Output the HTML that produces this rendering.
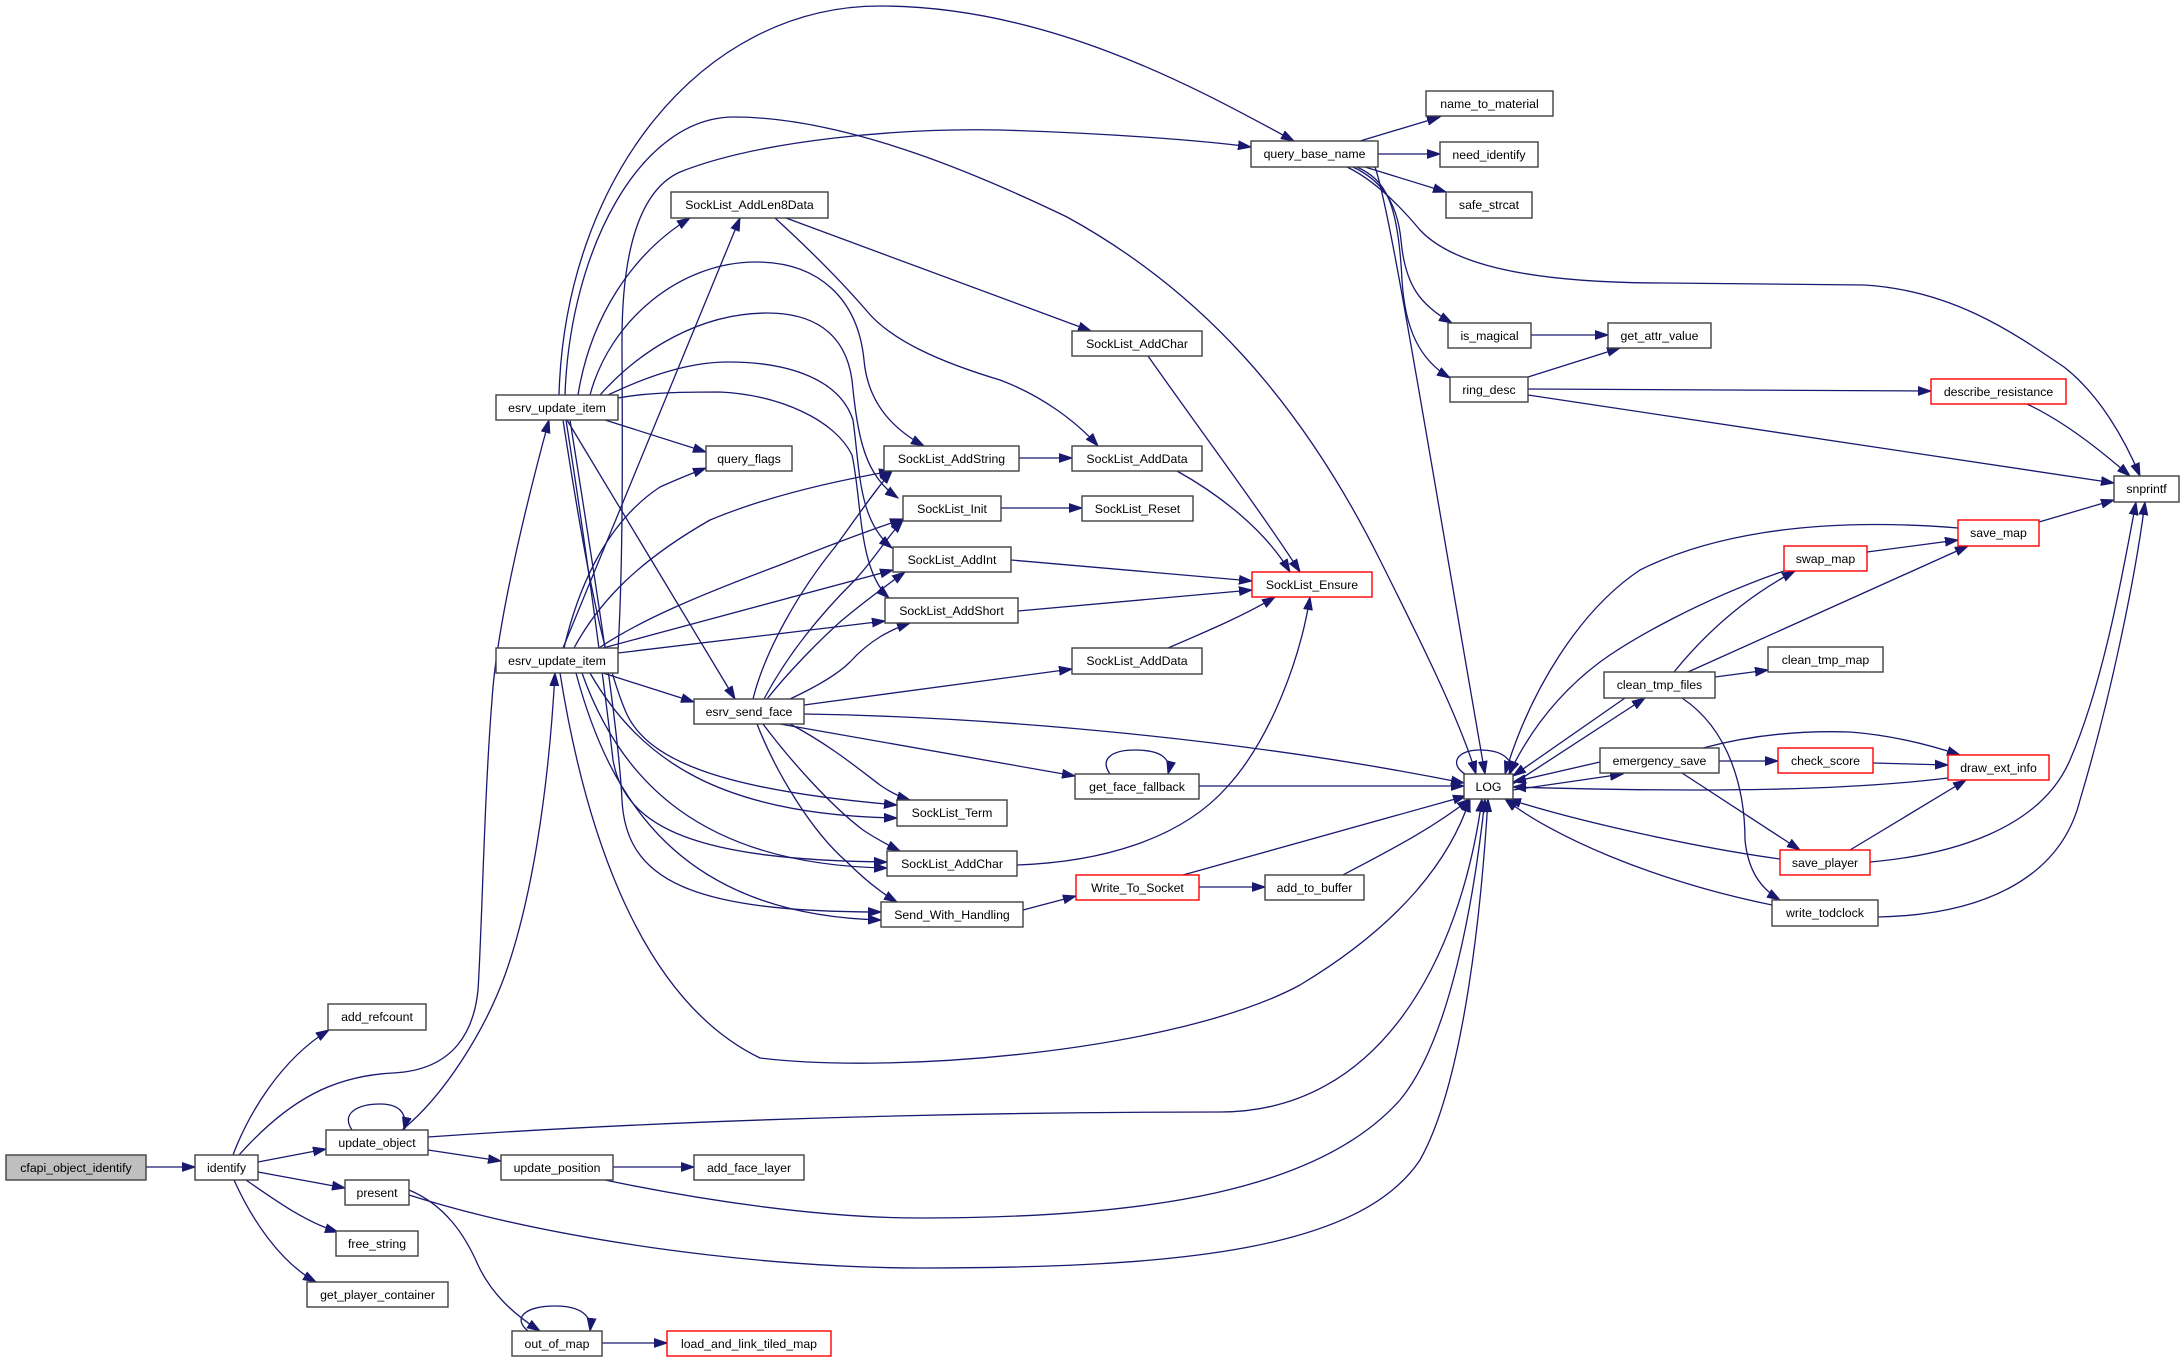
<!DOCTYPE html>
<html><head><meta charset="utf-8"><style>
html,body{margin:0;padding:0;background:#fff;width:2184px;height:1363px;overflow:hidden}
svg{display:block}
text{font-family:"Liberation Sans",Arial,sans-serif;font-size:12.3px;fill:#000;text-anchor:middle}
.e{fill:none;stroke:#191970;stroke-width:1.3;marker-end:url(#a)}
.n{fill:#fff;stroke:#404040;stroke-width:1.4}
.r{fill:#fff;stroke:#ff0000;stroke-width:1.4}
.g{fill:#bfbfbf;stroke:#404040;stroke-width:1.4}
</style></head><body>
<svg width="2184" height="1363" viewBox="0 0 2184 1363" xmlns="http://www.w3.org/2000/svg">
<defs><marker id="a" markerUnits="userSpaceOnUse" markerWidth="14" markerHeight="10" refX="13" refY="5" orient="auto"><path d="M0,0.6 L13,5 L0,9.4 z" fill="#191970" stroke="#191970" stroke-width="1"/></marker></defs>
<rect width="2184" height="1363" fill="#fff"/>
<g>
<path class="e" d="M146,1167 L195,1167"/>
<path class="e" d="M233,1155 C248,1115 280,1060 329,1030"/>
<path class="e" d="M239,1155 C290,1098 335,1076 393,1073 C455,1070 474,1030 478,990 C482,930 484,800 492,700 C497,620 530,490 549,420"/>
<path class="e" d="M258,1162 L326,1149"/>
<path class="e" d="M258,1172 L345,1188"/>
<path class="e" d="M246,1180 C275,1200 305,1222 338,1232"/>
<path class="e" d="M234,1180 C252,1220 280,1262 316,1282"/>
<path class="e" d="M352,1130 C340,1112 360,1104 380,1104 C398,1104 408,1112 404,1130"/>
<path class="e" d="M402,1130 C445,1095 485,1030 505,975 C530,905 548,800 555,673"/>
<path class="e" d="M428,1137 C700,1118 1000,1112 1220,1112 C1380,1112 1460,960 1482,799"/>
<path class="e" d="M428,1150 L501,1161"/>
<path class="e" d="M613,1167 L694,1167"/>
<path class="e" d="M605,1180 C700,1200 820,1218 920,1218 C1150,1218 1320,1190 1400,1100 C1450,1040 1474,900 1485,799"/>
<path class="e" d="M409,1195 C550,1240 760,1268 920,1268 C1180,1268 1360,1250 1420,1160 C1465,1080 1482,900 1488,799"/>
<path class="e" d="M409,1190 C445,1205 465,1235 478,1265 C492,1295 515,1315 540,1331"/>
<path class="e" d="M528,1331 C512,1318 525,1306 555,1306 C580,1306 592,1315 590,1331"/>
<path class="e" d="M602,1343 L667,1343"/>

<path class="e" d="M559,395 C565,180 700,6 880,6 C1050,6 1200,90 1294,141"/>
<path class="e" d="M565,395 C570,250 640,117 734,117 C850,117 990,180 1067,217 C1200,290 1300,400 1380,560 C1420,640 1460,720 1476,774"/>
<path class="e" d="M578,395 C590,320 630,255 690,218"/>
<path class="e" d="M590,395 C610,320 680,262 756,262 C820,262 858,300 864,360 C868,405 895,430 924,446"/>
<path class="e" d="M600,395 C640,350 700,313 767,313 C810,313 845,330 852,380 C858,440 865,475 898,498"/>
<path class="e" d="M608,395 C650,375 690,362 728,362 C790,362 840,380 853,420 C860,470 858,520 892,548"/>
<path class="e" d="M618,398 C650,392 690,392 720,392 C780,395 835,420 852,455 C862,500 858,570 889,598"/>
<path class="e" d="M605,420 L706,452"/>
<path class="e" d="M567,420 L735,699"/>
<path class="e" d="M563,420 C580,530 600,650 625,710 C645,760 720,790 897,805"/>
<path class="e" d="M566,420 C585,540 605,690 613,760 C625,830 700,860 887,862"/>
<path class="e" d="M570,420 C592,560 618,720 622,800 C626,880 690,912 881,912"/>

<path class="e" d="M618,650 C624,550 622,400 622,340 C622,250 640,190 680,172 C760,140 900,128 1000,130 C1100,133 1200,140 1251,147"/>
<path class="e" d="M564,648 C580,580 610,520 660,487 C680,478 690,474 706,468"/>
<path class="e" d="M563,648 L740,218"/>
<path class="e" d="M574,648 C600,600 640,560 710,520 C770,495 840,480 892,471"/>
<path class="e" d="M599,648 C640,620 700,595 780,565 C830,545 870,530 903,519"/>
<path class="e" d="M603,648 L893,570"/>
<path class="e" d="M618,653 L885,621"/>
<path class="e" d="M603,673 L694,702"/>
<path class="e" d="M590,673 C640,760 720,815 897,818"/>
<path class="e" d="M582,673 C620,780 700,865 887,868"/>
<path class="e" d="M576,673 C610,800 680,915 881,920"/>
<path class="e" d="M560,673 C585,830 640,1000 760,1058 C900,1075 1180,1050 1300,985 C1400,925 1450,860 1470,799"/>

<path class="e" d="M753,699 C765,650 800,590 835,547 C855,520 875,490 892,471"/>
<path class="e" d="M764,699 C790,650 825,610 853,582 C870,565 885,540 903,520"/>
<path class="e" d="M767,699 C790,670 820,640 840,622 C860,605 880,590 905,572"/>
<path class="e" d="M790,699 C820,685 840,672 850,662 C870,640 890,630 910,623"/>
<path class="e" d="M804,705 L1072,669"/>
<path class="e" d="M804,714 C1000,717 1250,740 1464,783"/>
<path class="e" d="M780,724 L1075,776"/>
<path class="e" d="M790,724 C830,745 860,770 880,785 C890,792 900,797 910,800"/>
<path class="e" d="M763,724 C790,760 830,805 863,830 C878,840 890,846 900,851"/>
<path class="e" d="M757,724 C775,770 810,830 847,862 C865,880 880,892 897,902"/>

<path class="e" d="M786,218 L1091,331"/>
<path class="e" d="M775,218 C810,250 840,280 866,310 C890,340 940,362 1000,380 C1040,395 1075,420 1098,446"/>
<path class="e" d="M1019,458 L1072,458"/>
<path class="e" d="M1001,508 L1082,508"/>
<path class="e" d="M1011,560 L1252,581"/>
<path class="e" d="M1018,611 L1252,590"/>
<path class="e" d="M1148,356 C1200,430 1260,510 1300,572"/>
<path class="e" d="M1177,471 C1220,495 1265,530 1290,572"/>
<path class="e" d="M1168,648 C1210,630 1245,615 1275,597"/>
<path class="e" d="M1017,865 C1100,862 1180,840 1227,787 C1270,740 1300,660 1310,597"/>
<path class="e" d="M1023,910 L1076,896"/>
<path class="e" d="M1199,887 L1265,887"/>
<path class="e" d="M1183,875 L1466,796"/>
<path class="e" d="M1343,875 C1390,850 1430,830 1470,799"/>
<path class="e" d="M1110,774 C1100,760 1110,750 1135,750 C1160,750 1172,758 1168,774"/>
<path class="e" d="M1199,786 L1464,786"/>

<path class="e" d="M1360,141 L1440,117"/>
<path class="e" d="M1378,154 L1440,154"/>
<path class="e" d="M1365,167 L1446,192"/>
<path class="e" d="M1347,167 C1370,178 1395,200 1420,230 C1450,262 1520,283 1664,283 L1864,285 C1950,290 2010,330 2064,367 C2100,395 2125,440 2140,476"/>
<path class="e" d="M1353,167 C1380,180 1397,200 1401,240 C1405,285 1420,305 1452,323"/>
<path class="e" d="M1357,167 C1385,180 1398,200 1402,280 C1405,330 1420,360 1450,378"/>
<path class="e" d="M1375,167 C1390,210 1420,400 1485,774"/>
<path class="e" d="M1531,335 L1608,335"/>
<path class="e" d="M1528,377 L1620,348"/>
<path class="e" d="M1528,389 L1931,391"/>
<path class="e" d="M1528,395 L2114,483"/>
<path class="e" d="M2027,404 C2065,422 2100,450 2130,476"/>
<path class="e" d="M2039,522 L2114,500"/>
<path class="e" d="M1867,552 L1958,540"/>
<path class="e" d="M1958,528 C1800,515 1700,540 1640,570 C1580,610 1530,690 1505,774"/>
<path class="e" d="M1784,571 C1700,600 1630,640 1600,662 C1560,692 1530,730 1509,774"/>
<path class="e" d="M1674,672 C1700,640 1740,600 1795,571"/>
<path class="e" d="M1688,672 L1968,546"/>
<path class="e" d="M1715,677 L1768,670"/>
<path class="e" d="M1625,698 L1513,776"/>
<path class="e" d="M1513,784 L1645,698"/>
<path class="e" d="M1682,698 C1730,730 1745,790 1745,840 C1748,870 1760,888 1780,900"/>
<path class="e" d="M1600,762 L1513,782"/>
<path class="e" d="M1513,790 L1623,774"/>
<path class="e" d="M1465,774 C1450,765 1455,750 1480,750 C1500,750 1515,758 1510,774"/>
<path class="e" d="M1719,761 L1778,761"/>
<path class="e" d="M1703,748 C1740,738 1790,730 1850,732 C1890,735 1930,745 1960,755"/>
<path class="e" d="M1873,763 L1948,765"/>
<path class="e" d="M1948,778 C1850,790 1717,793 1513,787"/>
<path class="e" d="M1850,850 L1966,780"/>
<path class="e" d="M1780,859 C1700,848 1583,823 1508,799"/>
<path class="e" d="M1870,862 C1950,855 2040,830 2070,760 C2105,680 2125,560 2136,502"/>
<path class="e" d="M1772,905 C1650,880 1550,835 1505,799"/>
<path class="e" d="M1878,917 C1980,915 2060,880 2080,800 C2110,700 2135,580 2145,502"/>
<path class="e" d="M1682,773 L1800,850"/>
</g>
<g>
<rect class="g" x="6" y="1155" width="140" height="25"/><text x="76" y="1172">cfapi_object_identify</text>
<rect class="n" x="195" y="1155" width="63" height="25"/><text x="226.5" y="1172">identify</text>
<rect class="n" x="328" y="1004" width="98" height="26"/><text x="377" y="1021">add_refcount</text>
<rect class="n" x="326" y="1130" width="102" height="25"/><text x="377" y="1147">update_object</text>
<rect class="n" x="345" y="1180" width="64" height="25"/><text x="377" y="1197">present</text>
<rect class="n" x="336" y="1231" width="82" height="25"/><text x="377" y="1248">free_string</text>
<rect class="n" x="307" y="1282" width="141" height="25"/><text x="377.5" y="1299">get_player_container</text>
<rect class="n" x="501" y="1155" width="112" height="25"/><text x="557" y="1172">update_position</text>
<rect class="n" x="694" y="1155" width="110" height="25"/><text x="749" y="1172">add_face_layer</text>
<rect class="n" x="512" y="1331" width="90" height="25"/><text x="557" y="1348">out_of_map</text>
<rect class="r" x="667" y="1331" width="164" height="25"/><text x="749" y="1348">load_and_link_tiled_map</text>
<rect class="n" x="496" y="395" width="122" height="25"/><text x="557" y="412">esrv_update_item</text>
<rect class="n" x="496" y="648" width="122" height="25"/><text x="557" y="665">esrv_update_item</text>
<rect class="n" x="706" y="446" width="86" height="25"/><text x="749" y="463">query_flags</text>
<rect class="n" x="694" y="699" width="110" height="25"/><text x="749" y="716">esrv_send_face</text>
<rect class="n" x="671" y="192" width="157" height="26"/><text x="749.5" y="209">SockList_AddLen8Data</text>
<rect class="n" x="884" y="446" width="135" height="25"/><text x="951.5" y="463">SockList_AddString</text>
<rect class="n" x="903" y="496" width="98" height="25"/><text x="952" y="513">SockList_Init</text>
<rect class="n" x="893" y="547" width="118" height="25"/><text x="952" y="564">SockList_AddInt</text>
<rect class="n" x="885" y="598" width="133" height="25"/><text x="951.5" y="615">SockList_AddShort</text>
<rect class="n" x="897" y="800" width="110" height="26"/><text x="952" y="817">SockList_Term</text>
<rect class="n" x="887" y="851" width="130" height="25"/><text x="952" y="868">SockList_AddChar</text>
<rect class="n" x="881" y="902" width="142" height="25"/><text x="952" y="919">Send_With_Handling</text>
<rect class="n" x="1072" y="331" width="130" height="25"/><text x="1137" y="348">SockList_AddChar</text>
<rect class="n" x="1072" y="446" width="130" height="25"/><text x="1137" y="463">SockList_AddData</text>
<rect class="n" x="1082" y="496" width="111" height="25"/><text x="1137.5" y="513">SockList_Reset</text>
<rect class="r" x="1252" y="572" width="120" height="25"/><text x="1312" y="589">SockList_Ensure</text>
<rect class="n" x="1072" y="648" width="130" height="26"/><text x="1137" y="665">SockList_AddData</text>
<rect class="n" x="1075" y="774" width="124" height="25"/><text x="1137" y="791">get_face_fallback</text>
<rect class="r" x="1076" y="875" width="123" height="25"/><text x="1137.5" y="892">Write_To_Socket</text>
<rect class="n" x="1265" y="875" width="99" height="25"/><text x="1314.5" y="892">add_to_buffer</text>
<rect class="n" x="1251" y="141" width="127" height="26"/><text x="1314.5" y="158">query_base_name</text>
<rect class="n" x="1426" y="91" width="127" height="25"/><text x="1489.5" y="108">name_to_material</text>
<rect class="n" x="1440" y="142" width="98" height="25"/><text x="1489" y="159">need_identify</text>
<rect class="n" x="1446" y="192" width="86" height="26"/><text x="1489" y="209">safe_strcat</text>
<rect class="n" x="1448" y="323" width="83" height="25"/><text x="1489.5" y="340">is_magical</text>
<rect class="n" x="1450" y="377" width="78" height="25"/><text x="1489" y="394">ring_desc</text>
<rect class="n" x="1608" y="323" width="103" height="25"/><text x="1659.5" y="340">get_attr_value</text>
<rect class="r" x="1931" y="379" width="135" height="25"/><text x="1998.5" y="396">describe_resistance</text>
<rect class="n" x="2114" y="476" width="65" height="26"/><text x="2146.5" y="493">snprintf</text>
<rect class="r" x="1958" y="520" width="81" height="26"/><text x="1998.5" y="537">save_map</text>
<rect class="r" x="1784" y="546" width="83" height="25"/><text x="1825.5" y="563">swap_map</text>
<rect class="n" x="1768" y="647" width="115" height="25"/><text x="1825.5" y="664">clean_tmp_map</text>
<rect class="n" x="1604" y="672" width="111" height="26"/><text x="1659.5" y="689">clean_tmp_files</text>
<rect class="n" x="1600" y="748" width="119" height="25"/><text x="1659.5" y="765">emergency_save</text>
<rect class="r" x="1778" y="748" width="95" height="25"/><text x="1825.5" y="765">check_score</text>
<rect class="r" x="1948" y="755" width="101" height="25"/><text x="1998.5" y="772">draw_ext_info</text>
<rect class="n" x="1464" y="774" width="49" height="25"/><text x="1488.5" y="791">LOG</text>
<rect class="r" x="1780" y="850" width="90" height="25"/><text x="1825" y="867">save_player</text>
<rect class="n" x="1772" y="900" width="106" height="26"/><text x="1825" y="917">write_todclock</text>
</g>
</svg>
</body></html>
